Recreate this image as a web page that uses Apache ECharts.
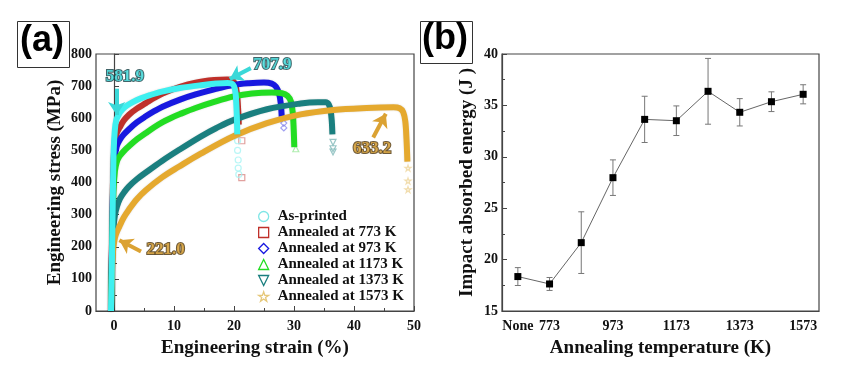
<!DOCTYPE html>
<html>
<head>
<meta charset="utf-8">
<script src="https://cdn.jsdelivr.net/npm/echarts@6/dist/echarts.min.js"></script>
<style>html,body{margin:0;padding:0;background:#fff;}#c{width:848px;height:370px;}</style>
</head>
<body>
<div id="c"></div>
<script>
// ---------- Panel (a): engineering stress-strain curves [strain %, stress MPa] ----------
const seriesNames = ['As-printed','Annealed at 773 K','Annealed at 973 K','Annealed at 1173 K','Annealed at 1373 K','Annealed at 1573 K'];
const curveAsPrinted = [[-0.5,0],[-0.35,150],[-0.2,350],[-0.05,500],[0.15,565],[0.4,595],[0.8,612],[1.4,627],[2.2,640],[3.2,651],[4.5,662],[6,672],[8,683],[11,694],[14.5,703],[17,708],[18.9,710],[19.6,708],[20.0,700],[20.25,680],[20.4,640],[20.5,590],[20.55,550]];
const curve773 = [[-0.5,0],[-0.3,250],[-0.1,450],[0.15,530],[0.5,556],[0.9,570],[1.6,592],[2.5,611],[3.8,630],[5.3,647],[6.7,663],[8.1,677],[11,698],[13.6,711],[16.7,719],[18.9,721],[19.7,719],[20.2,706],[20.5,675],[20.7,625],[20.8,580]];
const curve973 = [[-0.5,0],[-0.3,230],[-0.1,410],[0.15,480],[0.45,512],[0.9,531],[1.6,549],[2.5,566],[3.8,587],[5.3,606],[6.7,622],[8.1,636],[11,658],[13.6,674],[16.7,690],[20,704],[22.5,709],[25,711],[26.3,708],[27.0,698],[27.5,678],[27.8,645],[27.95,605]];
const curve1173 = [[-0.5,0],[-0.3,210],[-0.1,370],[0.15,435],[0.45,463],[0.9,481],[1.6,497],[2.5,513],[3.8,534],[5.3,554],[6.7,572],[8.1,588],[9.5,601],[11,613],[13.6,632],[16.7,651],[20,668],[23,677],[26.3,680],[28,678],[28.9,670],[29.5,652],[29.8,615],[29.95,565],[30.05,510]];
const curve1373 = [[-0.5,0],[-0.3,160],[-0.1,255],[0.15,298],[0.5,326],[1,350],[1.7,370],[2.5,388],[3.8,410],[5.3,431],[8,467],[10.8,501],[14.45,543],[17,569],[20,595],[25.5,628],[31.1,646],[34,650],[35.3,650],[35.8,643],[36.1,625],[36.3,590],[36.4,550]];
const curve1573 = [[-0.5,0],[-0.35,110],[-0.15,190],[0.15,228],[0.5,247],[0.9,263],[1.6,290],[2.5,316],[3.8,348],[5.3,376],[8,416],[10.8,449],[14.45,490],[20,545],[25.5,585],[31.1,612],[36.6,626],[42.1,632],[46.6,634],[47.6,631],[48.2,619],[48.55,590],[48.75,535],[48.9,465]];
// faded fracture tails (markers)
const tailAsPrinted = [[20.6,530],[20.6,500],[20.7,470],[20.7,445],[20.8,425]];
const tail773 = [[21.3,530],[21.3,415]];
const tail973 = [[28.3,585],[28.3,570]];
const tail1173 = [[30.3,505]];
const tail1373 = [[36.5,525],[36.5,505],[36.5,495]];
const tail1573 = [[49,445],[49,405],[49,378]];
const strainTicks = [0,10,20,30,40,50];
const strainMinorTicks = [5,15,25,35,45];
// annotations
const annotText = ['581.9','707.9','633.2','221.0'];
const annotPos = [[1.8,731],[26.4,766],[43,507],[8.6,190]];
const arrowFrom = [[0.45,692],[22.8,756],[43.2,540],[4.5,185]];
const arrowTo = [[0.45,610],[19.3,722],[45.3,614],[0.9,220]];

// ---------- Panel (b): impact absorbed energy ----------
const tempCategories = ['None','773','873','973','1073','1173','1273','1373','1473','1573'];
const tempTickLabels = ['None','773','','973','','1173','','1373','','1573'];
const energy = [18.35,17.63,21.65,27.97,33.64,33.51,36.37,34.33,35.36,36.08];
const energyErr = [0.87,0.63,3.0,1.73,2.25,1.44,3.2,1.33,0.96,0.93];

const colors = ['#3ff0f0','#c0302a','#1818e0','#22dd22','#1a7f7f','#e5a92e'];
const tailColors = ['#a8f4f4','#d98a86','#8a8aee','#9be89b','#7fb8b8','#eed49a'];
const symbols = ['circle','rect','diamond','triangle','path://M0,0 L10,0 L5,10 Z','path://M5,0 L6.2,3.6 L10,3.6 L6.9,5.8 L8.1,9.5 L5,7.2 L1.9,9.5 L3.1,5.8 L0,3.6 L3.8,3.6 Z'];
const curves = [curveAsPrinted,curve773,curve973,curve1173,curve1373,curve1573];
const tails = [tailAsPrinted,tail773,tail973,tail1173,tail1373,tail1573];

const serif = 'Liberation Serif';
const axisTextA = {fontFamily: serif, fontWeight:'bold', fontSize:14, color:'#111'};
const axisNameStyle = {fontFamily: serif, fontWeight:'bold', fontSize:19, color:'#111'};
const lineCol = '#444';

const chart = echarts.init(document.getElementById('c'), null, {renderer:'canvas'});

const series = [];
const drawOrder = [1,2,3,4,5,0];
drawOrder.forEach(i => {
  series.push({
    name: seriesNames[i], type:'line', xAxisIndex:0, yAxisIndex:0,
    data: curves[i], showSymbol:false, smooth:0.35,
    lineStyle:{color:colors[i], width:6, shadowColor:'rgba(0,0,0,0.15)', shadowBlur:2},
    itemStyle:{color:colors[i]}, z: 2 + drawOrder.indexOf(i)
  });
  series.push({
    name: seriesNames[i], type:'scatter', xAxisIndex:0, yAxisIndex:0,
    data: tails[i], symbol: symbols[i], symbolSize:6,
    itemStyle:{color:'rgba(255,255,255,0)', borderColor:tailColors[i], borderWidth:1.2}, z:2
  });
});
series.push({
  type:'lines', coordinateSystem:'cartesian2d', xAxisIndex:0, yAxisIndex:0, z:20,
  symbol:['none','arrow'], symbolSize:13,
  data: arrowFrom.map((f,k)=>({coords:[f, arrowTo[k]], lineStyle:{color: k<2 ? '#3ad8d8' : '#dba233', width:4, opacity:1}})),
  lineStyle:{width:4, opacity:1}
});
series.push({
  type:'scatter', xAxisIndex:0, yAxisIndex:0, z:21, symbolSize:1,
  itemStyle:{color:'rgba(0,0,0,0)'},
  data: annotPos.map((p,k)=>({value:p, label:{show:true, position:'inside', formatter: annotText[k],
    fontFamily: serif, fontWeight:'bold', fontSize:17,
    color: k<2 ? '#55eded' : '#e8b247', textBorderColor: k<2 ? '#123f44' : '#4a3108', textBorderWidth:2}}))
});
series.push({
  type:'line', xAxisIndex:2, yAxisIndex:1, data: energy, symbol:'rect', symbolSize:7,
  lineStyle:{color:'#666', width:1}, itemStyle:{color:'#000'}, z:5
});
series.push({
  type:'custom', xAxisIndex:2, yAxisIndex:1, z:4,
  data: energy.map((v,k)=>[k, v - energyErr[k], v + energyErr[k]]),
  renderItem: function(params, api){
    const x = api.value(0);
    const lo = api.coord([x, api.value(1)]);
    const hi = api.coord([x, api.value(2)]);
    const hw = 3;
    const st = {stroke:'#777', lineWidth:1};
    return {type:'group', children:[
      {type:'line', shape:{x1:lo[0], y1:lo[1], x2:hi[0], y2:hi[1]}, style:st},
      {type:'line', shape:{x1:lo[0]-hw, y1:lo[1], x2:lo[0]+hw, y2:lo[1]}, style:st},
      {type:'line', shape:{x1:hi[0]-hw, y1:hi[1], x2:hi[0]+hw, y2:hi[1]}, style:st}
    ]};
  }
});

const option = {
  animation:false,
  backgroundColor:'#fff',
  grid:[
    {left:96, top:54, width:318, height:257, show:true, borderColor:lineCol, borderWidth:1.2, backgroundColor:'transparent'},
    {left:502, top:54, width:317, height:257, show:true, borderColor:lineCol, borderWidth:1.2, backgroundColor:'transparent'}
  ],
  legend:{
    left:258, top:209, orient:'vertical', itemWidth:10, itemHeight:10, itemGap:1, padding:0,
    selectedMode:false,
    textStyle:{fontFamily:serif, fontWeight:'bold', fontSize:15, color:'#111', padding:[0,0,0,4]},
    data: seriesNames.map((n,i)=>({name:n, icon:symbols[i], itemStyle:{color:'rgba(255,255,255,0)', borderColor: i===0 ? '#7fe6e6' : (i===5 ? '#e6c87a' : colors[i]), borderWidth:1.3}}))
  },
  xAxis:[
    {type:'value', gridIndex:0, min:-3, max:50,
     name:'Engineering strain (%)', nameLocation:'middle', nameGap:28, nameTextStyle:axisNameStyle,
     axisLine:{lineStyle:{color:lineCol, width:1.2}},
     axisTick:{inside:true, length:5, customValues:strainTicks, lineStyle:{color:lineCol}},
     axisLabel:{customValues:strainTicks, margin:8, ...axisTextA},
     splitLine:{show:false}},
    {type:'value', gridIndex:0, min:-3, max:50, position:'bottom',
     axisLine:{show:false},
     axisTick:{inside:true, length:3, customValues:strainMinorTicks, lineStyle:{color:lineCol}},
     axisLabel:{show:false}, splitLine:{show:false}},
    {type:'category', gridIndex:1, data:tempCategories, boundaryGap:true,
     name:'Annealing temperature (K)', nameLocation:'middle', nameGap:28, nameTextStyle:axisNameStyle,
     axisLine:{lineStyle:{color:lineCol, width:1.2}},
     axisTick:{inside:true, length:5, alignWithLabel:true, interval:0, lineStyle:{color:lineCol}},
     axisLabel:{interval:0, margin:8, formatter:(v, idx)=>tempTickLabels[idx], ...axisTextA},
     splitLine:{show:false}}
  ],
  yAxis:[
    {type:'value', gridIndex:0, min:0, max:800, interval:100,
     name:'Engineering stress (MPa)', nameLocation:'middle', nameGap:31, nameTextStyle:axisNameStyle,
     axisLine:{show:true, lineStyle:{color:lineCol, width:1.2}},
     axisTick:{show:true, inside:true, length:5, lineStyle:{color:lineCol}},
     minorTick:{show:true, splitNumber:2, length:3, lineStyle:{color:lineCol}},
     axisLabel:{margin:4, ...axisTextA}, splitLine:{show:false}},
    {type:'value', gridIndex:1, min:15, max:40, interval:5,
     name:'Impact absorbed energy (J )', nameLocation:'middle', nameGap:25, nameTextStyle:axisNameStyle,
     axisLine:{show:true, lineStyle:{color:lineCol, width:1.2}},
     axisTick:{show:true, inside:true, length:5, lineStyle:{color:lineCol}},
     minorTick:{show:true, splitNumber:2, length:3, lineStyle:{color:lineCol}},
     axisLabel:{margin:4, ...axisTextA}, splitLine:{show:false}}
  ],
  graphic:[
    {type:'rect', left:17, top:21, shape:{width:52, height:46}, style:{fill:'#fff', stroke:'#333', lineWidth:1}},
    {type:'text', left:20, top:23, style:{text:'(a)', font:'bold 36px "Liberation Sans"', fill:'#000'}},
    {type:'rect', left:420, top:21, shape:{width:52, height:42}, style:{fill:'#fff', stroke:'#333', lineWidth:1}},
    {type:'text', left:422, top:21, style:{text:'(b)', font:'bold 36px "Liberation Sans"', fill:'#000'}}
  ],
  series: series
};
chart.setOption(option);
</script>
</body>
</html>
